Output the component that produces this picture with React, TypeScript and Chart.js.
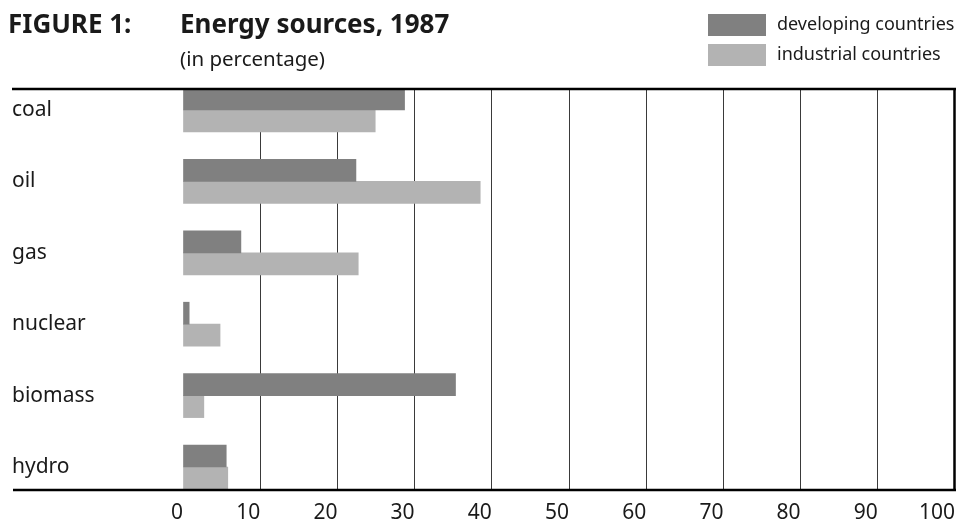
import React, { useEffect, useRef } from "react";
import { Chart, registerables } from "chart.js";

Chart.register(...registerables);

const categories = ["coal", "oil", "gas", "nuclear", "biomass", "hydro"];
const developing = [28.7, 22.4, 7.5, 0.8, 35.3, 5.6];
const industrial = [24.9, 38.5, 22.7, 4.8, 2.7, 5.8];
const seriesNames = ["developing countries", "industrial countries"];
const xTicks = [0, 10, 20, 30, 40, 50, 60, 70, 80, 90, 100];
const figureLabel = "FIGURE 1:";
const titleText = "Energy sources, 1987";
const subtitleText = "(in percentage)";

const FONT = "'Noto Sans', 'Open Sans', sans-serif";
const DARK = "#808080";
const LIGHT = "#b3b3b3";
const INK = "#1a1a1a";

const headerPlugin = {
  id: "header",
  afterDraw(chart: any) {
    const ctx = chart.ctx;
    const area = chart.chartArea;
    const xs = chart.scales.x;
    ctx.save();
    ctx.fillStyle = INK;
    ctx.textBaseline = "alphabetic";
    ctx.textAlign = "left";
    ctx.font = `bold 26px ${FONT}`;
    ctx.fillText(figureLabel, 8, 33);
    ctx.fillText(titleText, 180, 33);
    ctx.font = `20.5px ${FONT}`;
    ctx.fillText(subtitleText, 180, 66);

    // legend
    ctx.font = `18px ${FONT}`;
    ctx.textBaseline = "middle";
    chart.data.datasets.forEach((ds: any, i: number) => {
      const y = 14 + i * 30;
      ctx.fillStyle = ds.backgroundColor;
      ctx.fillRect(708, y, 58, 22);
      ctx.fillStyle = INK;
      ctx.fillText(ds.label, 777, y + 11);
    });

    // frame lines
    ctx.strokeStyle = "#000";
    ctx.lineWidth = 2.5;
    ctx.beginPath();
    ctx.moveTo(12, area.top);
    ctx.lineTo(chart.width, area.top);
    ctx.moveTo(13, area.bottom);
    ctx.lineTo(chart.width, area.bottom);
    const xr = Math.min(xs.getPixelForValue(100), chart.width - 1.5);
    ctx.moveTo(xr, area.top);
    ctx.lineTo(xr, area.bottom);
    ctx.stroke();
    ctx.restore();
  },
};

export default function App() {
  const ref = useRef<HTMLCanvasElement | null>(null);
  useEffect(() => {
    if (!ref.current) return;
    const chart = new Chart(ref.current, {
      type: "bar",
      data: {
        labels: categories,
        datasets: [
          { label: seriesNames[0], data: developing, backgroundColor: DARK, barThickness: 22 },
          { label: seriesNames[1], data: industrial, backgroundColor: LIGHT, barThickness: 22 },
        ],
      },
      options: {
        indexAxis: "y",
        animation: false,
        responsive: false,
        devicePixelRatio: 1,
        layout: { padding: { left: 12, right: 1, top: 89, bottom: 0 } },
        plugins: { legend: { display: false }, title: { display: false }, tooltip: { enabled: false } },
        scales: {
          x: {
            type: "linear",
            min: 0,
            max: 100,
            afterBuildTicks: (scale: any) => {
              scale.ticks = xTicks.map((v) => ({ value: v }));
            },
            afterFit: (scale: any) => {
              scale.height = 29;
              scale.paddingLeft = 0;
              scale.paddingRight = 0;
            },
            ticks: { font: { family: FONT, size: 21 }, color: INK, padding: 10, maxRotation: 0, align: "end" },
            grid: {
              drawTicks: false,
              color: (c: any) => (c.tick && (c.tick.value === 0 || c.tick.value === 100) ? "rgba(0,0,0,0)" : "#3a3a3a"),
              lineWidth: 1,
            },
            border: { display: false },
          },
          y: {
            type: "category",
            afterBuildTicks: (scale: any) => {
              scale._startValue = -0.294;
              scale._valueRange = 5.616;
            },
            afterFit: (scale: any) => {
              scale.width = 171;
              scale.paddingTop = 0;
              scale.paddingBottom = 0;
            },
            ticks: { font: { family: FONT, size: 21 }, color: INK, crossAlign: "far", padding: 0 },
            grid: { display: false },
            border: { display: false },
          },
        },
      },
      plugins: [headerPlugin],
    });
    return () => chart.destroy();
  }, []);
  return (
    <div style={{ position: "fixed", left: 0, top: 0, width: 956, height: 519, background: "#fff" }}>
      <canvas ref={ref} width={956} height={519} style={{ display: "block" }} />
    </div>
  );
}
